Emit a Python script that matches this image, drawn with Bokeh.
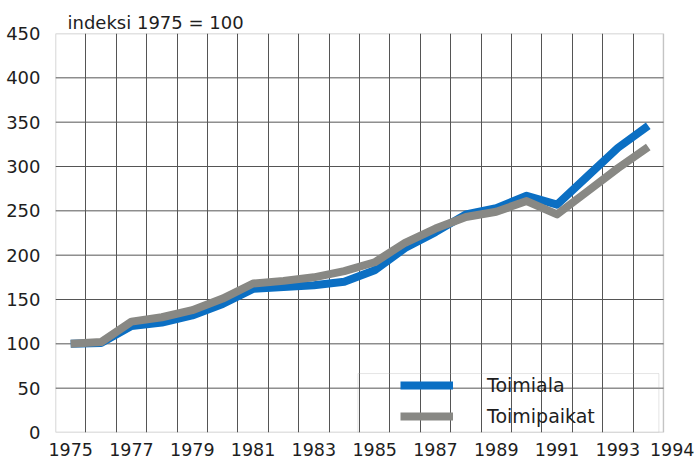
from bokeh.plotting import figure
from bokeh.models import FixedTicker, Legend, LegendItem, BoxAnnotation, Range1d
from bokeh.embed import file_html
from bokeh.resources import INLINE

# ---- data ----
years = list(range(1975, 1995))
toimiala = [100, 101, 120, 124, 132, 145, 162, 164, 166, 170, 183, 208, 226, 246, 253, 267, 257, 289, 321, 346]
toimipaikat = [100, 102, 125, 130, 138, 151, 168, 171, 175, 182, 192, 214, 230, 243, 249, 261, 246, 272, 298, 322]
x_tick_years = [1975, 1977, 1979, 1981, 1983, 1985, 1987, 1989, 1991, 1993]
last_tick_label = "1994"
y_ticks = [0, 50, 100, 150, 200, 250, 300, 350, 400, 450]
title_text = "indeksi 1975 = 100"
series_names = ["Toimiala", "Toimipaikat"]

BLUE = "#0b6fc3"
GREY = "#888884"
GRID = "#555555"
FONT = "DejaVu Sans"
TXT = "#1e1e1e"

x_lo = years[0] - 0.5
x_hi = years[-1] + 0.5
last_tick_pos = years[-1] + 0.8   # the "1994" label sits just right of the frame

p = figure(width=694, height=461, output_backend="svg", toolbar_location=None,
           x_range=Range1d(x_lo, x_hi + 0.89), y_range=Range1d(y_ticks[0], y_ticks[-1]),
           min_border_left=55, min_border_right=4, min_border_top=33, min_border_bottom=29)

p.title.text = title_text
p.title.align = "left"
p.title.offset = 12
p.title.text_font = FONT
p.title.text_font_size = "18px"
p.title.text_font_style = "normal"
p.title.text_color = TXT
p.title.standoff = 2

p.outline_line_color = None
p.background_fill_color = "white"
p.border_fill_color = "white"

p.xaxis.ticker = FixedTicker(ticks=x_tick_years + [last_tick_pos])
p.xaxis.major_label_overrides = {last_tick_pos: last_tick_label}
p.yaxis.ticker = FixedTicker(ticks=y_ticks)
for ax in (p.xaxis, p.yaxis):
    ax.axis_line_color = None
    ax.major_tick_line_color = None
    ax.minor_tick_line_color = None
    ax.major_label_text_font = FONT
    ax.major_label_text_color = TXT
p.xaxis.major_label_text_font_size = "17.5px"
p.yaxis.major_label_text_font_size = "18px"
p.xaxis.major_label_standoff = 4
p.yaxis.major_label_standoff = 9

# vertical grid between years
p.xgrid.ticker = FixedTicker(ticks=[y + 0.5 for y in years[:-1]])
p.xgrid.grid_line_color = GRID
p.xgrid.grid_line_width = 1
p.ygrid.grid_line_color = None

# horizontal grid limited to the chart box
hg = y_ticks[1:-1]
p.segment(x0=[x_lo] * len(hg), y0=hg, x1=[x_hi] * len(hg), y1=hg,
          line_color=GRID, line_width=1)

# chart border
p.add_layout(BoxAnnotation(left=x_lo, right=x_hi, bottom=y_ticks[0], top=y_ticks[-1],
                           fill_alpha=0, line_color="#3c3c3c", line_width=1.4))

r1 = p.line(years, toimiala, line_color=BLUE, line_width=8, line_join="round")
r2 = p.line(years, toimipaikat, line_color=GREY, line_width=8, line_join="round")

# legend frame
p.add_layout(BoxAnnotation(left=1984.45, right=1994.35, bottom=0, top=66.5,
                           fill_alpha=0, line_color="#a8a8a8", line_width=1))

legend = Legend(items=[LegendItem(label=series_names[0], renderers=[r1]),
                       LegendItem(label=series_names[1], renderers=[r2])],
                location=(340, 0), glyph_width=53, glyph_height=20,
                label_height=20, label_standoff=34, spacing=9, padding=5, margin=0,
                label_text_font=FONT, label_text_font_size="19px",
                label_text_color=TXT, border_line_alpha=0, background_fill_alpha=0)
p.add_layout(legend)

open("out.html", "w").write(file_html(p, INLINE))
